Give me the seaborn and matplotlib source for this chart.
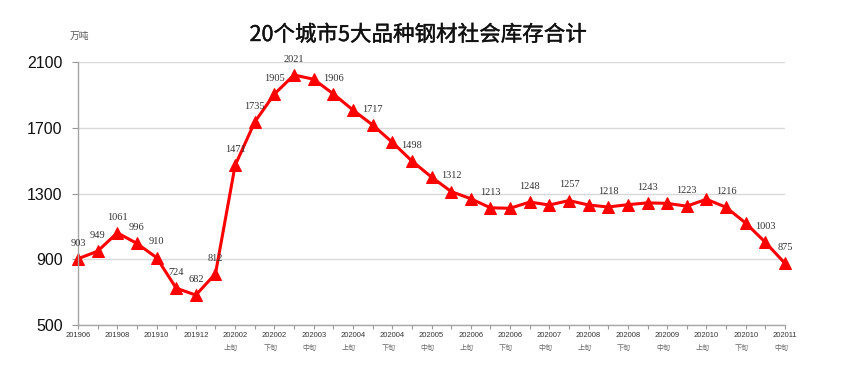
import matplotlib
matplotlib.use("Agg")
import matplotlib.pyplot as plt
import matplotlib.transforms as mtransforms
import matplotlib.patheffects as pe
import seaborn as sns
import pandas as pd

# %% Data
months = ['201906', '201907', '201908', '201909', '201910', '201911', '201912', '202001',
          '202002', '202002', '202002', '202003', '202003', '202003', '202004', '202004',
          '202004', '202005', '202005', '202005', '202006', '202006', '202006', '202007',
          '202007', '202007', '202008', '202008', '202008', '202009', '202009', '202009',
          '202010', '202010', '202010', '202011', '202011']
dekads = [''] * 8 + ['上旬', '中旬', '下旬'] * 9 + ['上旬', '中旬']
stock = [903, 949, 1061, 996, 910, 724, 682, 812, 1471, 1735, 1905, 2021, 1995, 1906,
         1808, 1717, 1612, 1498, 1400, 1312, 1268, 1213, 1210, 1248, 1230, 1257, 1230,
         1218, 1232, 1243, 1240, 1223, 1265, 1216, 1120, 1003, 875]
labeled = list(range(12)) + list(range(13, 36, 2)) + [36]
yticks = [500, 900, 1300, 1700, 2100]

df = pd.DataFrame({'idx': range(len(stock)), 'stock': stock})

# %% Plot
sns.set_theme(style="white")
plt.rcParams['font.family'] = ['Liberation Sans', 'Noto Sans CJK SC', 'DejaVu Sans']

fig = plt.figure(figsize=(8.48, 3.73), dpi=100)
ax = fig.add_axes([78 / 848, 1 - 325 / 373, 707 / 848, 263 / 373])

sns.lineplot(data=df, x='idx', y='stock', ax=ax, color='#ff0000', linewidth=2.2,
             marker='^', markersize=8.5, markeredgecolor='#ff0000', clip_on=False)

for i in labeled:
    ax.annotate(str(stock[i]), (i, stock[i]), xytext=(0, 8), textcoords='offset points',
                ha='center', va='bottom', fontsize=7.5, color='#333333',
                family='Liberation Serif')

ax.set_xlim(0, len(stock) - 1)
ax.set_ylim(500, 2100)
ax.set_yticks(yticks)
ax.set_yticklabels([str(v) for v in yticks], fontsize=11.5, color='#111111')
ax.set_xticks(range(len(stock)))
ax.set_xticklabels([m if i % 2 == 0 else '' for i, m in enumerate(months)],
                   fontsize=5.5, color='#333333')

# labels sit a little left of their ticks in the original
shift = mtransforms.ScaledTranslation(-4 / 100, 0, fig.dpi_scale_trans)
for lab in ax.get_xticklabels():
    lab.set_transform(lab.get_transform() + shift)
for i, d in enumerate(dekads):
    if i % 2 == 0 and d:
        ax.text(i, -0.088, d, transform=ax.get_xaxis_transform() + shift, ha='center',
                va='center', fontsize=5, color='#666666', family='Noto Sans CJK SC')

ax.tick_params(axis='x', length=3, width=0.8, color='#999999', pad=2, bottom=True)
ax.tick_params(axis='y', length=4, width=0.8, color='#999999', pad=7, left=True)
ax.grid(axis='y', color='#d9d9d9', linewidth=1)
ax.set_axisbelow(True)
for s in ['top', 'right']:
    ax.spines[s].set_visible(False)
for s in ['left', 'bottom']:
    ax.spines[s].set_color('#a6a6a6')
    ax.spines[s].set_linewidth(1)
ax.set_xlabel('')
ax.set_ylabel('')

title = fig.text(418 / 848, 1 - 35 / 373, '20个城市5大品种钢材社会库存合计', ha='center',
                 va='center', fontsize=15.5, color='#111111', family=['Noto Sans CJK SC'])
title.set_path_effects([pe.withStroke(linewidth=0.3, foreground='#111111')])
fig.text(79 / 848, 1 - 36 / 373, '万吨', ha='center', va='center', fontsize=7,
         color='#555555', family=['Noto Sans CJK SC'])

fig.savefig('out.png', dpi=100)
